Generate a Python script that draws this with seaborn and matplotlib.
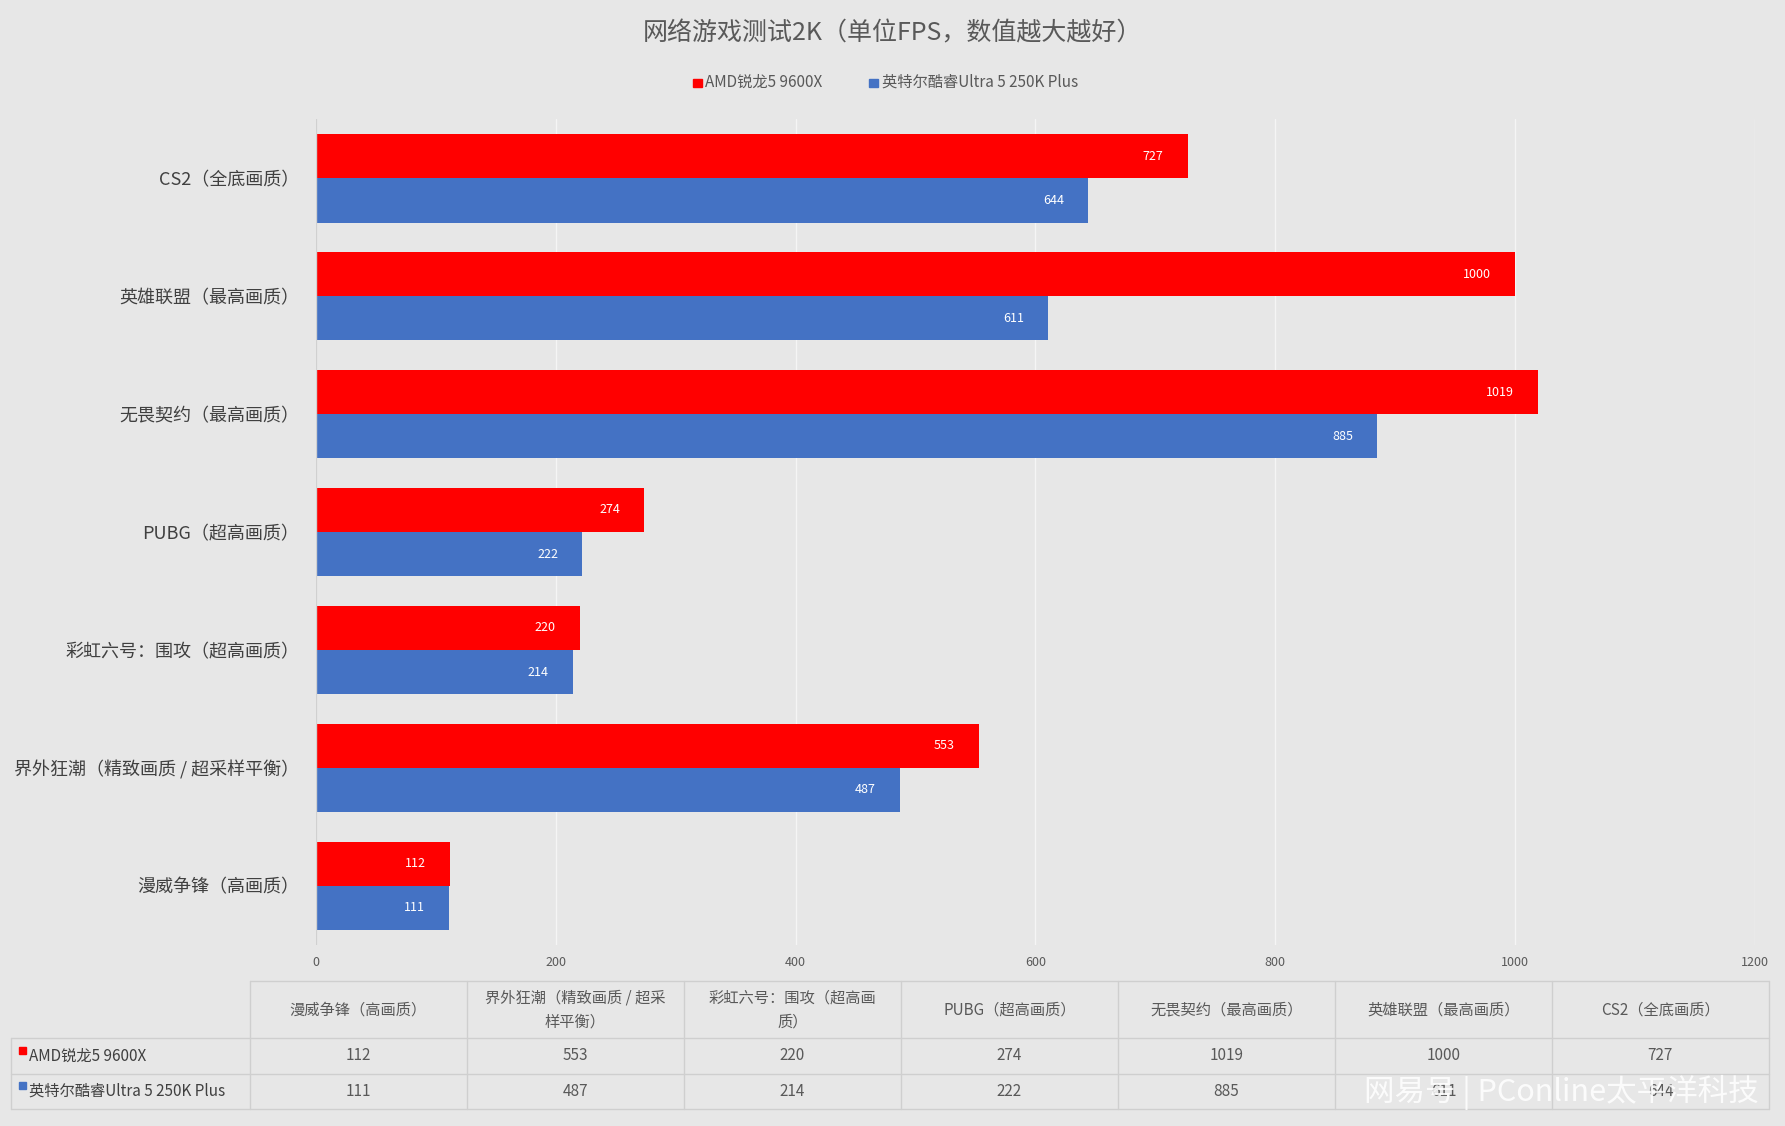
import matplotlib
matplotlib.use("Agg")
import matplotlib.pyplot as plt
import seaborn as sns
import pandas as pd

games = ["CS2（全底画质）", "英雄联盟（最高画质）", "无畏契约（最高画质）", "PUBG（超高画质）",
         "彩虹六号：围攻（超高画质）", "界外狂潮（精致画质 / 超采样平衡）", "漫威争锋（高画质）"]
amd = [727, 1000, 1019, 274, 220, 553, 112]
intel = [644, 611, 885, 222, 214, 487, 111]
series = ["AMD锐龙5 9600X", "英特尔酷睿Ultra 5 250K Plus"]
xticks = [0, 200, 400, 600, 800, 1000, 1200]
table_headers = ["漫威争锋（高画质）", "界外狂潮（精致画质 / 超采\n样平衡）", "彩虹六号：围攻（超高画\n质）",
                 "PUBG（超高画质）", "无畏契约（最高画质）", "英雄联盟（最高画质）", "CS2（全底画质）"]
colors = ["#FF0000", "#4472C4"]
bg = "#E7E7E7"

sns.set_theme(style="white")
plt.rcParams['font.family'] = ['Noto Sans CJK SC', 'DejaVu Sans']

df = pd.DataFrame({"game": games * 2, "fps": amd + intel,
                   "series": [series[0]] * len(games) + [series[1]] * len(games)})

fig = plt.figure(figsize=(17.85, 11.26), dpi=100, facecolor=bg)
ax = fig.add_axes([0.177, 0.161, 0.806, 0.733], facecolor=bg)
sns.barplot(data=df, y="game", x="fps", hue="series", order=games, hue_order=series,
            palette=colors, width=0.75, saturation=1, ax=ax, legend=False, linewidth=0)
ax.set_xlim(0, 1200)
ax.set_xticks(xticks)
ax.set_xticklabels([str(t) for t in xticks], fontsize=9, color="#595959")
ax.set_xlabel(""); ax.set_ylabel("")
ax.tick_params(axis="y", labelsize=13, colors="#404040", length=0, pad=12)
ax.tick_params(axis="x", length=0, pad=8)
ax.grid(axis="x", color="#F5F5F5", lw=1)
ax.set_axisbelow(True)
for s in ax.spines.values():
    s.set_visible(False)
ax.axvline(0, color="#D0D0D0", lw=1)
for cont in ax.containers:
    for bar in cont:
        w = bar.get_width()
        ax.text(w - 20, bar.get_y() + bar.get_height() / 2, f"{int(w)}", ha="right", va="center",
                color="white", fontsize=9)

fig.text(0.5, 0.97, "网络游戏测试2K（单位FPS，数值越大越好）", ha="center", va="center",
         fontsize=18, color="#595959")
fig.patches.append(plt.Rectangle((0.388, 0.923), 0.005, 0.007, color=colors[0], transform=fig.transFigure))
fig.text(0.395, 0.927, series[0], fontsize=11, color="#595959", va="center")
fig.patches.append(plt.Rectangle((0.487, 0.923), 0.005, 0.007, color=colors[1], transform=fig.transFigure))
fig.text(0.494, 0.927, series[1], fontsize=11, color="#595959", va="center")

tx0, tx1 = 0.14, 0.991
lx0 = 0.006
ty = [1 - 862 / 989, 1 - 912 / 989, 1 - 943 / 989, 1 - 974 / 989]
cw = (tx1 - tx0) / len(games)
lc = "#CFCFCF"
fig.add_artist(plt.Line2D([tx0, tx1], [ty[0], ty[0]], color=lc, lw=1))
for yy in ty[1:]:
    fig.add_artist(plt.Line2D([lx0, tx1], [yy, yy], color=lc, lw=1))
fig.add_artist(plt.Line2D([lx0, lx0], [ty[1], ty[3]], color=lc, lw=1))
for i in range(len(games) + 1):
    x = tx0 + i * cw
    fig.add_artist(plt.Line2D([x, x], [ty[0], ty[3]], color=lc, lw=1))
rev_amd = amd[::-1]
rev_int = intel[::-1]
for i in range(len(games)):
    cx = tx0 + (i + 0.5) * cw
    fig.text(cx, (ty[0] + ty[1]) / 2, table_headers[i], ha="center", va="center", fontsize=11,
             color="#595959", linespacing=1.5)
    fig.text(cx, (ty[1] + ty[2]) / 2, str(rev_amd[i]), ha="center", va="center", fontsize=11, color="#595959")
    fig.text(cx, (ty[2] + ty[3]) / 2, str(rev_int[i]), ha="center", va="center", fontsize=11, color="#595959")
for r, (s, c) in enumerate(zip(series, colors)):
    yc = (ty[r + 1] + ty[r + 2]) / 2
    fig.patches.append(plt.Rectangle((0.0105, yc + 0.002), 0.004, 0.006, color=c, transform=fig.transFigure))
    fig.text(0.016, yc, s, ha="left", va="center", fontsize=11, color="#404040")

fig.text(0.985, 0.03, "网易号 | PConline太平洋科技", ha="right", va="center", fontsize=22,
         color="white", alpha=0.85)

fig.savefig("out.png", dpi=100, facecolor=bg)
